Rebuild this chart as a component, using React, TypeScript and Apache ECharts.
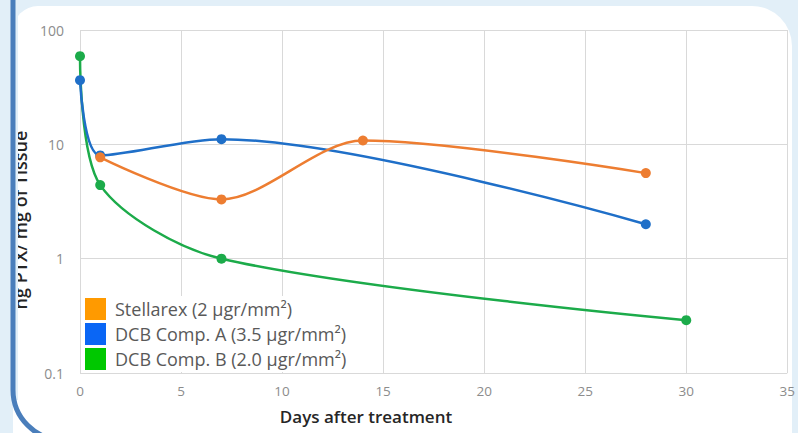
import React, { useEffect, useRef } from "react";
import * as echarts from "echarts";

const seriesNames = [
  "Stellarex (2 µgr/mm²)",
  "DCB Comp. A (3.5 µgr/mm²)",
  "DCB Comp. B (2.0 µgr/mm²)",
];
const stellarexData: [number, number][] = [
  [1, 7.7],
  [7, 3.3],
  [14, 10.8],
  [28, 5.6],
];
const compAData: [number, number][] = [
  [0, 36.4],
  [1, 8.0],
  [7, 11.1],
  [28, 2.0],
];
const compBData: [number, number][] = [
  [0, 59],
  [1, 4.4],
  [7, 1.0],
  [30, 0.29],
];
const lineColors = ["#ed7d31", "#1f6fc8", "#1cab4a"];
const legendColors = ["#ff9a00", "#0a66f5", "#00c800"];
const xTicks = [0, 5, 10, 15, 20, 25, 30, 35];
const yTicks = [0.1, 1, 10, 100];
const xTitle = "Days after treatment";
const yTitle = "ng PTX/ mg of Tissue";

export default function App() {
  const ref = useRef<HTMLDivElement>(null);
  useEffect(() => {
    const chart = echarts.init(ref.current!, undefined, { renderer: "svg" });
    const datas = [stellarexData, compAData, compBData];
    chart.setOption({
      animation: false,
      textStyle: { fontFamily: "Open Sans" },
      graphic: [
        { type: "rect", z: -20, silent: true, shape: { x: 0, y: 0, width: 798, height: 433 }, style: { fill: "#e2eff8" } },
        { type: "rect", z: -19, silent: true, shape: { x: 13, y: 6, width: 779, height: 460, r: [25, 40, 0, 0] }, style: { fill: "#ffffff" } },
        {
          type: "text",
          z: 50,
          x: 20,
          y: 220,
          rotation: Math.PI / 2,
          style: {
            text: yTitle,
            fill: "#262626",
            font: "600 18px 'Open Sans'",
            align: "center",
            verticalAlign: "middle",
          },
        },
        {
          type: "text",
          z: 50,
          x: 366,
          y: 416,
          style: {
            text: xTitle,
            fill: "#262626",
            font: "600 17px 'Open Sans'",
            align: "center",
            verticalAlign: "middle",
          },
        },
        { type: "rect", z: 60, silent: true, shape: { x: 0, y: 0, width: 18, height: 400 }, style: { fill: "#e2eff8" } },
        {
          type: "rect",
          z: 70,
          silent: true,
          shape: { x: 13, y: -100, width: 1000, height: 540, r: [0, 0, 0, 50] },
          style: { fill: "none", stroke: "#4a7ebb", lineWidth: 5 },
        },
      ],
      grid: { left: 80, right: 8, top: 30, bottom: 60, containLabel: false },
      legend: {
        orient: "vertical",
        left: 83,
        top: 296,
        itemWidth: 21,
        itemHeight: 22,
        itemGap: 3,
        padding: [2, 8, 2, 2],
        backgroundColor: "#ffffff",
        icon: "rect",
        textStyle: { fontSize: 18, color: "#595959", fontFamily: "Open Sans", padding: [0, 0, 0, 4] },
        data: seriesNames.map((n, i) => ({ name: n, itemStyle: { color: legendColors[i] } })),
      },
      xAxis: {
        type: "value",
        min: 0,
        max: 35,
        interval: 5,
        axisLine: { show: false },
        axisTick: { show: false },
        axisLabel: {
          color: "#8c8c8c",
          fontSize: 13.5,
          margin: 11,
          formatter: (v: number) => (xTicks.includes(v) ? String(v) : ""),
        },
        splitLine: { show: true, lineStyle: { color: "#d9d9d9", width: 1 } },
      },
      yAxis: {
        type: "log",
        logBase: 10,
        min: 0.1,
        max: 100,
        axisLine: { show: false },
        axisTick: { show: false },
        axisLabel: {
          color: "#8c8c8c",
          fontSize: 14,
          margin: 16,
          formatter: (v: number) => {
            const t = yTicks.find((y) => Math.abs(y - v) < 1e-9);
            return t === undefined ? "" : String(t);
          },
        },
        splitLine: { show: true, lineStyle: { color: "#d9d9d9", width: 1 } },
      },
      series: datas.map((d, i) => ({
        name: seriesNames[i],
        type: "line",
        data: d,
        smooth: 0.3,
        symbol: "circle",
        symbolSize: 10,
        color: lineColors[i],
        lineStyle: { width: 2.5, color: lineColors[i] },
        itemStyle: { color: lineColors[i] },
        z: 5 - i,
      })),
    });
    return () => chart.dispose();
  }, []);
  return <div ref={ref} style={{ width: 798, height: 433, position: "absolute", left: 0, top: 0 }} />;
}
